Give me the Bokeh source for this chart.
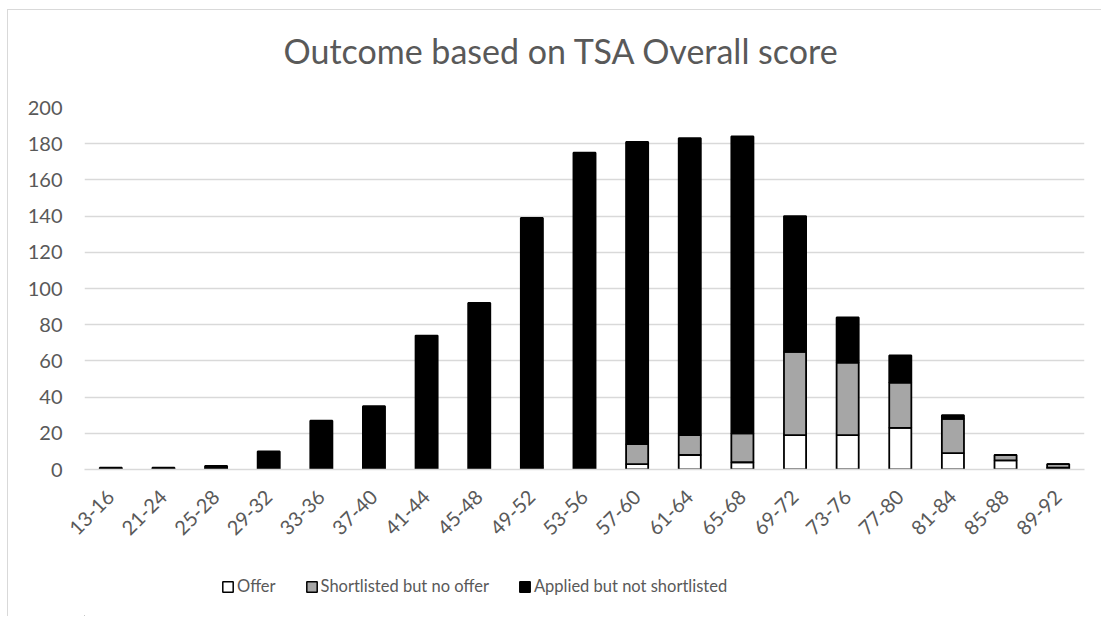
import math
from bokeh.plotting import figure
from bokeh.layouts import column
from bokeh.models import (ColumnDataSource, Range1d, FactorRange, FixedTicker, Legend,
                          LegendItem, Label)
from bokeh.embed import file_html
from bokeh.resources import INLINE

# ---- data ----
categories = ["13-16", "21-24", "25-28", "29-32", "33-36", "37-40", "41-44", "45-48",
              "49-52", "53-56", "57-60", "61-64", "65-68", "69-72", "73-76", "77-80",
              "81-84", "85-88", "89-92"]
offer = [0, 0, 0, 0, 0, 0, 0, 0, 1, 0, 3, 8, 4, 19, 19, 23, 9, 5, 1]
shortlisted = [0, 0, 0, 0, 0, 0, 0, 0, 1, 0, 11, 11, 16, 46, 40, 25, 19, 3, 2]
applied = [1, 1, 2, 10, 27, 35, 74, 92, 137, 175, 167, 164, 164, 75, 25, 15, 2, 0, 0]
series_names = ["Offer", "Shortlisted but no offer", "Applied but not shortlisted"]
y_ticks = [0, 20, 40, 60, 80, 100, 120, 140, 160, 180, 200]
chart_title = "Outcome based on TSA Overall score"

FONT = "Lato"
GREY_TEXT = "#595959"
GRID = "#d9d9d9"
FILLS = ["white", "#a6a6a6", "black"]
BORDER = "1px solid #d9d9d9"


def strip(height):
    f = figure(width=1094, height=height, output_backend="svg", toolbar_location=None,
               x_range=Range1d(0, 1), y_range=Range1d(0, 1),
               x_axis_type=None, y_axis_type=None,
               min_border_left=0, min_border_right=0, min_border_top=0, min_border_bottom=0)
    f.outline_line_color = None
    f.xgrid.grid_line_color = None
    f.ygrid.grid_line_color = None
    return f


# ---- title strip ----
t = strip(70)
t.styles = {"margin-left": "7px", "margin-top": "9px", "border-left": BORDER, "border-top": BORDER}
t.add_layout(Label(text=chart_title, x=199, y=30, x_units="screen", y_units="screen",
                   text_align="left", text_baseline="alphabetic",
                   text_font=FONT, text_font_size="34px", text_color=GREY_TEXT))

# ---- main chart ----
source = ColumnDataSource(dict(cat=categories, offer=offer, short=shortlisted, applied=applied))

p = figure(x_range=FactorRange(*categories, range_padding=0), y_range=Range1d(0, 200),
           width=1094, height=475, output_backend="svg", toolbar_location=None,
           min_border_left=76, min_border_right=18, min_border_top=28, min_border_bottom=85)
p.styles = {"margin-left": "7px", "border-left": BORDER}
p.outline_line_color = None

renderers = p.vbar_stack(["offer", "short", "applied"], x="cat", width=0.42,
                         fill_color=FILLS, line_color="black",
                         line_width=1.8, source=source)

p.yaxis.ticker = FixedTicker(ticks=y_ticks)
p.yaxis.axis_line_color = None
p.yaxis.major_tick_line_color = None
p.yaxis.minor_tick_line_color = None
p.yaxis.major_label_standoff = 16
p.yaxis.major_label_text_font = FONT
p.yaxis.major_label_text_font_size = "20px"
p.yaxis.major_label_text_color = GREY_TEXT

p.xaxis.axis_line_color = GRID
p.xaxis.axis_line_width = 1.5
p.xaxis.major_tick_line_color = None
p.xaxis.minor_tick_line_color = None
p.xaxis.major_label_orientation = math.pi / 4
p.xaxis.major_label_standoff = 18
p.xaxis.major_label_text_font = FONT
p.xaxis.major_label_text_font_size = "20px"
p.xaxis.major_label_text_color = GREY_TEXT

p.xgrid.grid_line_color = None
p.ygrid.grid_line_color = GRID
p.ygrid.grid_line_width = 1.5

# ---- legend strip below the chart (proxy glyphs sit outside the visible range) ----
q = strip(62)
q.styles = {"margin-left": "7px", "border-left": BORDER}
proxy_src = ColumnDataSource(dict(x=[-1], top=[-1], bottom=[-2]))
dummy = [q.vbar(x="x", top="top", bottom="bottom", width=0.1, fill_color=c,
                line_color="black", line_width=1.5, source=proxy_src)
         for c in FILLS]
legend = Legend(items=[LegendItem(label=n, renderers=[r]) for n, r in zip(series_names, dummy)],
                orientation="horizontal", location=(137, 20), margin=0,
                glyph_width=13, glyph_height=13, label_standoff=3, spacing=29, padding=0,
                border_line_color=None, background_fill_alpha=0,
                label_text_font=FONT, label_text_font_size="16.5px", label_text_color=GREY_TEXT)
q.add_layout(legend, "center")

layout = column(t, p, q, spacing=0)
open("out.html", "w").write(file_html(layout, INLINE))
